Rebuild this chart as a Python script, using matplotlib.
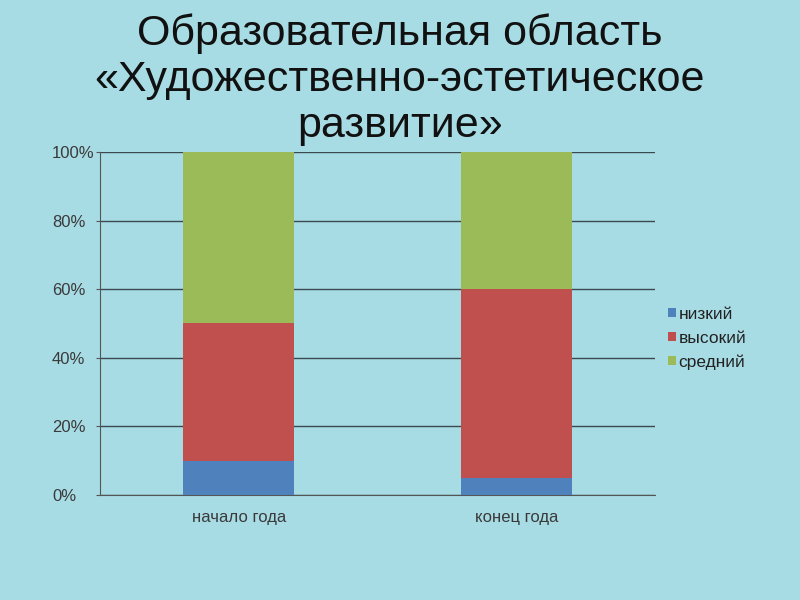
import matplotlib
matplotlib.use("Agg")
import matplotlib.pyplot as plt
import numpy as np

plt.rcParams['font.family'] = ['Liberation Sans', 'DejaVu Sans']

categories = ["начало года", "конец года"]
series_names = ["низкий", "высокий", "средний"]
nizkiy = [10, 5]
vysokiy = [40, 55]
sredniy = [50, 40]
colors = ["#4f81bd", "#c0504d", "#9bbb59"]
yticks = [0, 20, 40, 60, 80, 100]
ytick_labels = ["0%", "20%", "40%", "60%", "80%", "100%"]
title = "Образовательная область\n«Художественно-эстетическое\nразвитие»"

bg = "#a8dce5"
fig = plt.figure(figsize=(8, 6), dpi=100, facecolor=bg)
ax = fig.add_axes([0.125, 0.175, 0.69375, 0.5717])
ax.set_facecolor(bg)

x = np.arange(len(categories))
bottom = np.zeros(len(categories))
for name, vals, c in zip(series_names, [nizkiy, vysokiy, sredniy], colors):
    ax.bar(x, vals, width=0.4, bottom=bottom, color=c, label=name, zorder=3)
    bottom += np.array(vals)

ax.set_xlim(-0.5, 1.5)
ax.set_ylim(0, 100)
ax.set_yticks(yticks)
ax.set_yticklabels(ytick_labels, fontsize=12, color="#3a3a3a", ha="left")
ax.set_xticks(x)
ax.set_xticklabels(categories, fontsize=12, color="#3a3a3a")
ax.yaxis.grid(True, color="#3a4a50", linewidth=1.0, zorder=0)
for s in ["top", "right"]:
    ax.spines[s].set_visible(False)
ax.spines["left"].set_color("#555555")
ax.spines["bottom"].set_color("#555555")
ax.tick_params(axis="y", length=3, color="#555555", pad=31.5)
ax.tick_params(axis="x", length=0, pad=11)

leg = fig.legend(loc="upper left", bbox_to_anchor=(0.816, 0.515), frameon=False,
                 fontsize=12.5, handlelength=0.42, handleheight=0.42, handletextpad=0.15,
                 labelspacing=0.52)
for t in leg.get_texts():
    t.set_color("#222222")

fig.text(0.5, 0.978, title, ha="center", va="top", fontsize=31, color="#111111",
         linespacing=1.19)

fig.savefig("out.png", dpi=100, facecolor=bg)
